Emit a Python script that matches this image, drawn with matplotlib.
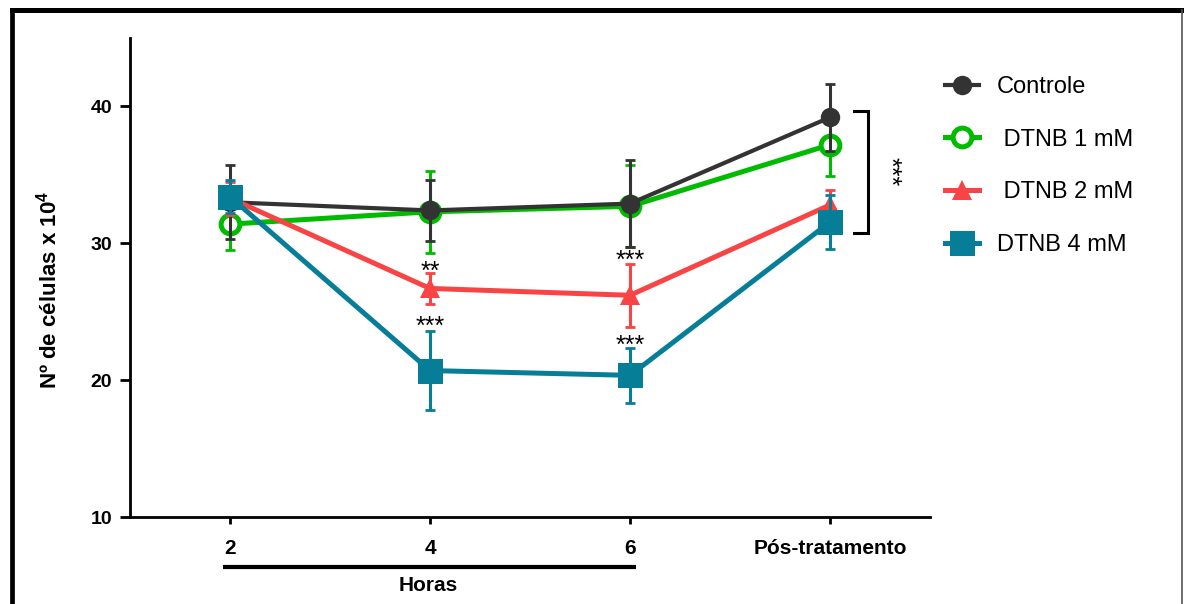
import matplotlib
matplotlib.use('Agg')
import matplotlib.pyplot as plt
from matplotlib.lines import Line2D
import matplotlib.transforms as mtransforms

plt.rcParams['font.family'] = ['Liberation Sans', 'DejaVu Sans']
plt.rcParams['mathtext.fontset'] = 'custom'
plt.rcParams['mathtext.rm'] = 'Liberation Sans'
plt.rcParams['mathtext.bf'] = 'Liberation Sans:bold'

# Data
time_labels = ['2', '4', '6', 'Pós-tratamento']
series_names = ['Controle', ' DTNB 1 mM', ' DTNB 2 mM', 'DTNB 4 mM']

controle = [33.0, 32.4, 32.9, 39.2]
controle_err = [2.7, 2.2, 3.2, 2.45]
dtnb1 = [31.4, 32.3, 32.7, 37.2]
dtnb1_err = [1.9, 3.0, 3.0, 2.3]
dtnb2 = [33.3, 26.7, 26.2, 32.8]
dtnb2_err = [1.2, 1.1, 2.3, 1.1]
dtnb4 = [33.4, 20.7, 20.35, 31.55]
dtnb4_err = [1.2, 2.9, 2.0, 1.95]

# significance marks: (x index, y value, text)
stars = [(1, 27.9, '**'), (2, 28.7, '***'), (1, 23.9, '***'), (2, 22.5, '***')]

x = list(range(len(time_labels)))

fig = plt.figure(figsize=(11.84, 6.04), dpi=100)
ax = fig.add_axes([130 / 1184, 1 - 517 / 604, 800 / 1184, 479 / 604])

styles = [
    # data, err, color, marker, size, face, mew, lw, z
    (dtnb1, dtnb1_err, '#00BB00', 'o', 13.5, 'white', 3.6, 3.6, 2),
    (controle, controle_err, '#333333', 'o', 14, '#333333', 0, 3.0, 3),
    (dtnb2, dtnb2_err, '#F84444', '^', 14, '#F84444', 0, 3.6, 4),
    (dtnb4, dtnb4_err, '#077E97', 's', 18, '#077E97', 0, 3.6, 5),
]
names = [series_names[1], series_names[0], series_names[2], series_names[3]]

handles = {}
for (vals, err, col, mk, ms, fc, mew, lw, z), name in zip(styles, names):
    ax.errorbar(x, vals, yerr=err, fmt='none', ecolor=col, elinewidth=2.2,
                capsize=3.8, capthick=2.0, zorder=z)
    ln, = ax.plot(x, vals, color=col, lw=lw, marker=mk, markersize=ms,
                  markerfacecolor=fc, markeredgecolor=col, markeredgewidth=mew,
                  zorder=z + 0.5, label=name)
    handles[name] = ln

ax.set_xlim(-0.5, 3.5)
ax.set_ylim(10, 45)
ax.set_yticks([10, 20, 30, 40])
ax.set_xticks(x)
ax.set_xticklabels(time_labels)

for s in ['top', 'right']:
    ax.spines[s].set_visible(False)
for s in ['left', 'bottom']:
    ax.spines[s].set_linewidth(2)

ax.tick_params(axis='y', length=7, width=2, pad=6, labelsize=14)
ax.tick_params(axis='x', length=5, width=2, pad=11, labelsize=15)
for lab in ax.get_xticklabels() + ax.get_yticklabels():
    lab.set_fontweight('bold')

ax.set_ylabel('Nº de células x 10$^{\\mathbf{4}}$', fontsize=16, fontweight='bold')
ax.yaxis.set_label_coords(-0.085, 0.474)

# significance stars
for xi, yv, txt in stars:
    ax.text(x[xi], yv, txt, ha='center', va='center', fontsize=18, color='black')

# bracket at post-treatment
bx = 3.19
ax.plot([3.12, bx, bx, 3.12], [39.66, 39.66, 30.76, 30.76], color='black', lw=2.2,
        clip_on=False, solid_joinstyle='miter')
ax.text(3.30, 35.2, '***', rotation=270, ha='center', va='center', fontsize=18)

# "Horas" bar under 2..6
trans = mtransforms.blended_transform_factory(ax.transData, ax.transAxes)
ax.plot([-0.035, 2.03], [-0.104, -0.104], color='black', lw=3, transform=trans,
        clip_on=False, solid_capstyle='butt')
ax.text(0.99, -0.142, 'Horas', transform=trans, ha='center', va='center',
        fontsize=15, fontweight='bold')

# legend
order = [series_names[0], series_names[1], series_names[2], series_names[3]]
leg = ax.legend([handles[n] for n in order], order, loc='upper left',
                bbox_to_anchor=(945 / 1184, 1 - 76 / 604), bbox_transform=fig.transFigure,
                frameon=False, fontsize=17, handlelength=1.45, handletextpad=0.75,
                labelspacing=1.3, borderpad=0, borderaxespad=0)

# outer frame
fig.add_artist(Line2D([11.5 / 1184, 1], [1 - 10 / 604, 1 - 10 / 604], color='black', lw=3.6,
                      transform=fig.transFigure))
fig.add_artist(Line2D([11.5 / 1184, 11.5 / 1184], [0, 1 - 10 / 604], color='black', lw=3.4,
                      transform=fig.transFigure))
fig.add_artist(Line2D([1182 / 1184, 1182 / 1184], [0, 1 - 10 / 604], color='#555555', lw=1.2,
                      transform=fig.transFigure))

fig.savefig('out.png', dpi=100)
